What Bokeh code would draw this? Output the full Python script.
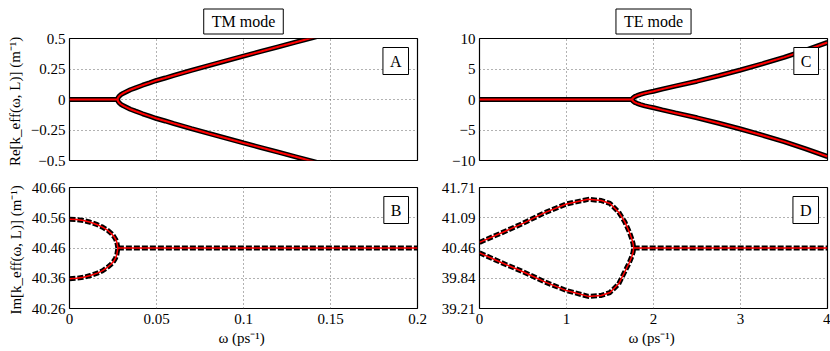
from bokeh.plotting import figure
from bokeh.layouts import column, row
from bokeh.models import Range1d, FixedTicker, Label, Title
from bokeh.embed import file_html
from bokeh.resources import INLINE

# ---------------- data ----------------
# TM mode, real part
tm_re_zero_w = [0.0, 0.0276]
tm_re_zero_k = [0.0, 0.0]
tm_re_w = [0.0276, 0.0279, 0.0285, 0.0293, 0.031, 0.033, 0.035, 0.038, 0.042, 0.046,
           0.05, 0.055, 0.06, 0.07, 0.08, 0.09, 0.1, 0.11, 0.12, 0.13, 0.14, 0.16, 0.18, 0.2]
tm_re_up = [0.0, 0.015, 0.026, 0.037, 0.052, 0.066, 0.08, 0.096, 0.117, 0.136,
            0.156, 0.176, 0.197, 0.238, 0.278, 0.317, 0.356, 0.394, 0.432, 0.47, 0.508, 0.585, 0.66, 0.735]
tm_re_lo = [0.0, -0.015, -0.026, -0.037, -0.052, -0.066, -0.08, -0.096, -0.117, -0.136,
            -0.156, -0.176, -0.197, -0.238, -0.278, -0.317, -0.356, -0.394, -0.432, -0.47, -0.508, -0.585, -0.66, -0.735]

# TE mode, real part
te_re_zero_w = [0.0, 1.755]
te_re_zero_k = [0.0, 0.0]
te_re_w = [1.755, 1.757, 1.762, 1.77, 1.785, 1.81, 1.85, 1.9, 1.95, 2.0, 2.1, 2.25,
           2.5, 2.75, 3.0, 3.25, 3.5, 3.75, 4.0]
te_re_up = [0.0, 0.12, 0.22, 0.32, 0.47, 0.63, 0.83, 1.04, 1.2, 1.36, 1.7, 2.2,
            3.0, 3.9, 4.84, 5.85, 6.9, 8.1, 9.35]
te_re_lo = [0.0, -0.12, -0.22, -0.32, -0.47, -0.63, -0.83, -1.04, -1.2, -1.36, -1.7, -2.2,
            -3.0, -3.9, -4.84, -5.85, -6.9, -8.1, -9.35]

# TM mode, imaginary part
tm_im_w = [0.0, 0.004, 0.008, 0.012, 0.016, 0.019, 0.022, 0.024, 0.0255, 0.0265, 0.0272, 0.0278]
tm_im_up = [40.555, 40.554, 40.551, 40.545, 40.537, 40.529, 40.518, 40.508, 40.498, 40.489, 40.479, 40.46]
tm_im_lo = [40.358, 40.36, 40.363, 40.369, 40.377, 40.385, 40.397, 40.407, 40.417, 40.427, 40.438, 40.46]
tm_im_flat_w = [0.0278, 0.2]
tm_im_flat_k = [40.46, 40.46]

# TE mode, imaginary part
te_im_w = [0.0, 0.25, 0.5, 0.75, 1.0, 1.25, 1.4, 1.5, 1.6, 1.67, 1.72, 1.75, 1.765, 1.772]
te_im_up = [40.575, 40.77, 40.97, 41.19, 41.37, 41.465, 41.44, 41.38, 41.2, 41.0, 40.8, 40.65, 40.55, 40.46]
te_im_lo = [40.36, 40.16, 39.97, 39.76, 39.58, 39.46, 39.48, 39.54, 39.72, 39.97, 40.15, 40.28, 40.37, 40.46]
te_im_flat_w = [1.772, 4.0]
te_im_flat_k = [40.46, 40.46]

# ticks
tm_xticks = [0, 0.05, 0.1, 0.15, 0.2]
tm_xlabels = ["0", "0.05", "0.1", "0.15", "0.2"]
te_xticks = [0, 1, 2, 3, 4]
te_xlabels = ["0", "1", "2", "3", "4"]
tm_re_yticks = [-0.5, -0.25, 0, 0.25, 0.5]
tm_re_ylabels = ["\u22120.5", "\u22120.25", "0", "0.25", "0.5"]
te_re_yticks = [-10, -5, 0, 5, 10]
te_re_ylabels = ["\u221210", "\u22125", "0", "5", "10"]
tm_im_yticks = [40.26, 40.36, 40.46, 40.56, 40.66]
tm_im_ylabels = ["40.26", "40.36", "40.46", "40.56", "40.66"]
te_im_yticks = [39.21, 39.835, 40.46, 41.085, 41.71]
te_im_ylabels = ["39.21", "39.84", "40.46", "41.09", "41.71"]

FONT = "Liberation Serif"
TICK_FS = "15px"
LAB_FS = "15px"


def make_fig(xr, yr, xt, xl, yt, yl, ylabel, show_x, fh, mbl, mbr, mbt, mbb):
    p = figure(frame_width=348, frame_height=fh,
               x_range=Range1d(*xr), y_range=Range1d(*yr),
               output_backend="svg", toolbar_location=None,
               min_border_left=mbl, min_border_right=mbr,
               min_border_top=mbt, min_border_bottom=mbb)
    p.outline_line_color = "black"
    p.outline_line_width = 1.2
    p.outline_line_alpha = 1.0
    p.background_fill_color = "white"
    p.border_fill_color = "white"
    for ax in (p.xaxis[0], p.yaxis[0]):
        ax.axis_line_color = None
        ax.major_tick_in = 0
        ax.major_tick_out = 0
        ax.minor_tick_line_color = None
        ax.major_label_text_font = FONT
        ax.major_label_text_font_size = TICK_FS
        ax.major_label_text_color = "black"
        ax.axis_label_text_font = FONT
        ax.axis_label_text_font_size = LAB_FS
        ax.axis_label_text_font_style = "normal"
        ax.axis_label_text_color = "black"
    p.xaxis.ticker = FixedTicker(ticks=xt)
    p.xaxis.major_label_overrides = dict(zip(xt, xl))
    p.yaxis.ticker = FixedTicker(ticks=yt)
    p.yaxis.major_label_overrides = dict(zip(yt, yl))
    p.xaxis.major_label_standoff = 5
    p.yaxis.major_label_standoff = 4
    p.xgrid.ticker = FixedTicker(ticks=xt)
    p.ygrid.ticker = FixedTicker(ticks=yt)
    for g in (p.xgrid[0], p.ygrid[0]):
        g.grid_line_color = "#555555"
        g.grid_line_dash = "1 3"
        g.grid_line_width = 1
        g.grid_line_alpha = 0.9
    if show_x:
        p.xaxis.axis_label = "\u03c9  (ps\u207b\u00b9)"
        p.xaxis.axis_label_standoff = 3
    else:
        p.xaxis.visible = False
    if ylabel:
        p.yaxis.axis_label = ylabel
        p.yaxis.axis_label_standoff = 5
    return p


def tag(p, xr, yr, letter):
    p.add_layout(Label(x=xr[1], y=yr[1], x_offset=-9, y_offset=-9, anchor="top_right",
                       text=letter, text_font=FONT, text_font_size="16px", text_color="black",
                       border_line_color="black", border_line_width=1,
                       background_fill_color="white",
                       padding=dict(left=7, right=7, top=5, bottom=5)))


def head(p, text):
    p.add_layout(Title(text=text, align="center", text_font=FONT, text_font_size="16px",
                       text_font_style="normal", text_color="black",
                       border_line_color="black", border_line_width=1,
                       background_fill_color="white",
                       padding=dict(left=8, right=8, top=4, bottom=4), standoff=9), "above")


# ranges
tm_x = (0, 0.2)
te_x = (0, 4)
tm_re_y = (-0.5, 0.5)
te_re_y = (-10, 10)
tm_im_y = (40.26, 40.66)
te_im_y = (39.21, 41.71)

RE_LABEL = "Re[k_eff(\u03c9, L)]  (m\u207b\u00b9)"
IM_LABEL = "Im[k_eff(\u03c9, L)]  (m\u207b\u00b9)"

pA = make_fig(tm_x, tm_re_y, tm_xticks, tm_xlabels, tm_re_yticks, tm_re_ylabels, RE_LABEL,
              False, 122, 69, 20, 38, 10)
pC = make_fig(te_x, te_re_y, te_xticks, te_xlabels, te_re_yticks, te_re_ylabels, None,
              False, 122, 42, 3, 38, 10)
pB = make_fig(tm_x, tm_im_y, tm_xticks, tm_xlabels, tm_im_yticks, tm_im_ylabels, IM_LABEL,
              True, 121, 69, 20, 17, 43)
pD = make_fig(te_x, te_im_y, te_xticks, te_xlabels, te_im_yticks, te_im_ylabels, None,
              True, 121, 42, 3, 17, 43)


def re_lines(p, zw, zk, w, up, lo):
    for xs, ys in ((zw, zk), (w, up), (w, lo)):
        p.line(xs, ys, line_color="black", line_width=5)
    for xs, ys in ((zw, zk), (w, up), (w, lo)):
        p.line(xs, ys, line_color="red", line_width=2)


def im_lines(p, w, up, lo, fw, fk):
    for xs, ys in ((w, up), (w, lo), (fw, fk)):
        p.line(xs, ys, line_color="black", line_width=5, line_dash="6 2")
    for xs, ys in ((w, up), (w, lo), (fw, fk)):
        p.line(xs, ys, line_color="red", line_width=1.5)


re_lines(pA, tm_re_zero_w, tm_re_zero_k, tm_re_w, tm_re_up, tm_re_lo)
re_lines(pC, te_re_zero_w, te_re_zero_k, te_re_w, te_re_up, te_re_lo)
im_lines(pB, tm_im_w, tm_im_up, tm_im_lo, tm_im_flat_w, tm_im_flat_k)
im_lines(pD, te_im_w, te_im_up, te_im_lo, te_im_flat_w, te_im_flat_k)

tag(pA, tm_x, tm_re_y, "A")
tag(pB, tm_x, tm_im_y, "B")
tag(pC, te_x, te_re_y, "C")
tag(pD, te_x, te_im_y, "D")
head(pA, "TM mode")
head(pC, "TE mode")

layout = column(row(pA, pC), row(pB, pD))
open("out.html", "w").write(file_html(layout, INLINE))
